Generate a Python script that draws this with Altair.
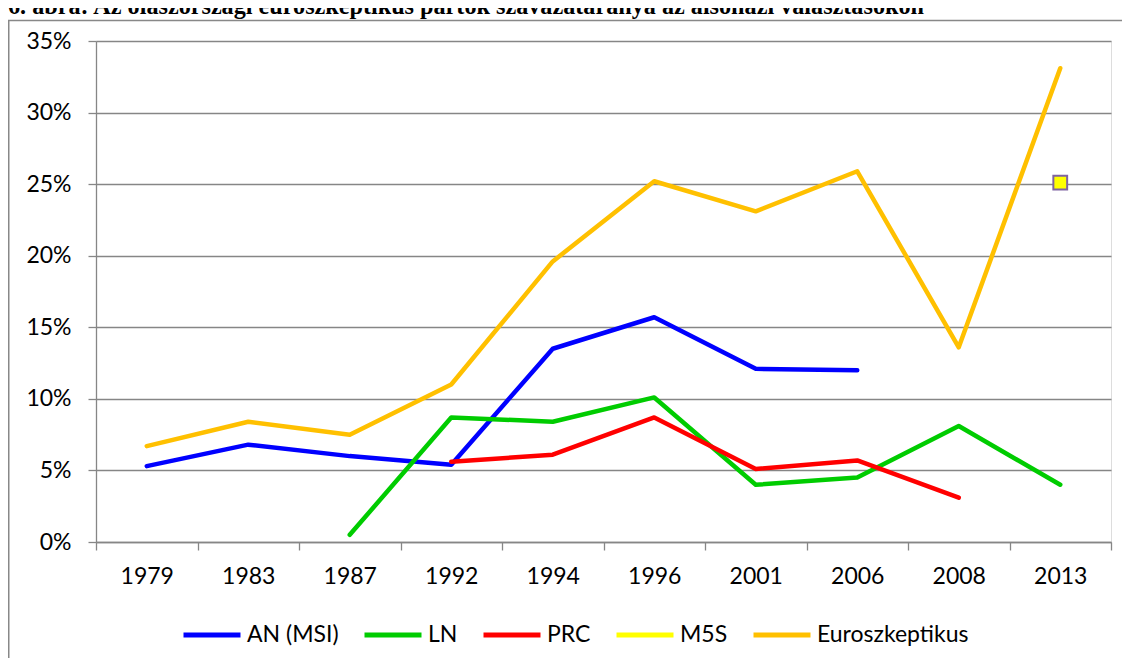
import altair as alt
import pandas as pd

years = ["1979", "1983", "1987", "1992", "1994", "1996", "2001", "2006", "2008", "2013"]
series_names = ["AN (MSI)", "LN", "PRC", "M5S", "Euroszkeptikus"]
an = [0.053, 0.068, 0.060, 0.054, 0.135, 0.157, 0.121, 0.120, None, None]
ln = [None, None, 0.005, 0.087, 0.084, 0.101, 0.040, 0.045, 0.081, 0.040]
prc = [None, None, None, 0.056, 0.061, 0.087, 0.051, 0.057, 0.031, None]
m5s = [None, None, None, None, None, None, None, None, None, 0.251]
euro = [0.067, 0.084, 0.075, 0.110, 0.196, 0.252, 0.231, 0.259, 0.136, 0.331]
colors = ["#0000FF", "#00CC00", "#FF0000", "#FFFF00", "#FFC000"]
y_ticks = [0, 0.05, 0.10, 0.15, 0.20, 0.25, 0.30, 0.35]
title_text = "6. ábra: Az olaszországi euroszkeptikus pártok szavazataránya az alsóházi választásokon"

rows = []
for name, vals in zip(series_names, [an, ln, prc, m5s, euro]):
    for i, (yr, v) in enumerate(zip(years, vals)):
        if v is not None:
            rows.append({"year": yr, "series": name, "value": v, "order": i})
df = pd.DataFrame(rows)

W, H = 1015, 501
PAD = {"left": 88, "top": 33, "right": 11, "bottom": 116}

x_enc = alt.X(
    "year:N",
    sort=years,
    bandPosition=0.5,
    scale=alt.Scale(type="band", paddingInner=0, paddingOuter=0, domain=years),
    axis=alt.Axis(
        title=None, labelAngle=0, tickBand="extent", tickSize=8, tickColor="#868686",
        tickWidth=1.3, domainColor="#868686", domainWidth=1.3, grid=False,
        labelFont="Lato", labelFontSize=23, labelColor="#000000", labelPadding=15,
    ),
)
y_enc = alt.Y(
    "value:Q",
    scale=alt.Scale(domain=[0, 0.35], nice=False),
    axis=alt.Axis(
        title=None, values=y_ticks, format=".0%", tickSize=8, tickColor="#868686",
        tickWidth=1.3, domainColor="#868686", domainWidth=1.3, grid=True,
        gridColor="#868686", gridWidth=1.3, labelFont="Lato", labelFontSize=23,
        labelColor="#000000", labelPadding=17,
    ),
)

lines = alt.Chart(df).transform_filter(alt.datum.series != "M5S").mark_line(
    strokeWidth=4.5, strokeCap="round", strokeJoin="round"
).encode(
    x=x_enc,
    y=y_enc,
    order=alt.Order("order:Q"),
    color=alt.Color(
        "series:N",
        scale=alt.Scale(domain=series_names, range=colors),
        legend=alt.Legend(
            title=None, orient="none", legendX=85, legendY=563, direction="horizontal",
            symbolType="stroke", symbolSize=3249, symbolStrokeWidth=5,
            labelFont="Lato", labelFontSize=23, labelColor="#000000", labelOffset=4,
            columnPadding=15, padding=0, labelLimit=400,
        ),
    ),
)

m5s_point = alt.Chart(df).transform_filter(alt.datum.series == "M5S").mark_square(
    size=190, fill="#FFFF00", stroke="#7F63A1", strokeWidth=2, opacity=1
).encode(x=x_enc, y=y_enc)

one = pd.DataFrame({"a": [0]})
frame_top = alt.Chart(one).mark_rule(color="#888888", strokeWidth=1.5).encode(
    x=alt.value(-88), x2=alt.value(1026), y=alt.value(-20.5)
)
frame_left = alt.Chart(one).mark_rule(color="#888888", strokeWidth=1.5).encode(
    x=alt.value(-87.25), y=alt.value(-21), y2=alt.value(625)
)
title = alt.Chart(one).mark_text(
    align="left", baseline="alphabetic", font="Liberation Serif", fontWeight="bold",
    fontSize=24.2, color="#000000"
).encode(x=alt.value(-88), y=alt.value(-27), text=alt.value(title_text))

chart = alt.layer(frame_top, frame_left, title, lines, m5s_point).properties(
    width=W, height=H, padding=PAD, autosize=alt.AutoSizeParams(type="none")
).configure_view(stroke=None).configure(background="#ffffff")

chart.save("out.html", embed_options={"renderer": "svg", "actions": False})
